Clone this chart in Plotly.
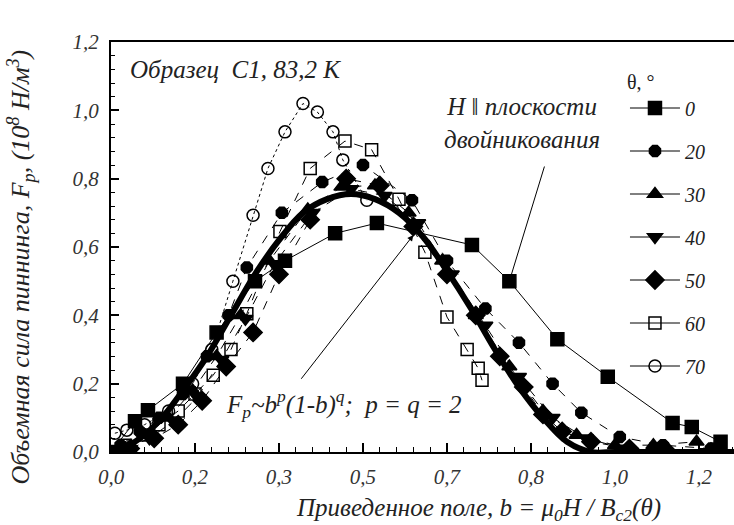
import plotly.graph_objects as go

# ---------------- data ----------------
b0 = [0.0, 0.05, 0.077, 0.15, 0.22, 0.30, 0.3625, 0.467, 0.554, 0.752, 0.83, 0.93, 1.035, 1.17, 1.21, 1.27]
f0 = [0.0, 0.09, 0.122, 0.20, 0.35, 0.50, 0.56, 0.64, 0.67, 0.606, 0.50, 0.33, 0.22, 0.085, 0.073, 0.03]

b20 = [0.02, 0.06, 0.10, 0.15, 0.20, 0.245, 0.283, 0.356, 0.44, 0.525, 0.627, 0.70, 0.78, 0.85, 0.92, 0.98, 1.06, 1.15, 1.25]
f20 = [0.02, 0.06, 0.10, 0.17, 0.28, 0.40, 0.54, 0.70, 0.79, 0.84, 0.737, 0.56, 0.42, 0.32, 0.20, 0.115, 0.044, 0.02, 0.01]

b30 = [0.02, 0.07, 0.12, 0.17, 0.22, 0.27, 0.33, 0.41, 0.48, 0.55, 0.62, 0.69, 0.76, 0.83, 0.90, 0.97, 1.05, 1.13, 1.22]
f30 = [0.01, 0.05, 0.10, 0.18, 0.28, 0.40, 0.56, 0.71, 0.776, 0.78, 0.70, 0.56, 0.40, 0.25, 0.12, 0.05, 0.02, 0.02, 0.03]

b40 = [0.03, 0.08, 0.13, 0.18, 0.23, 0.28, 0.34, 0.42, 0.50, 0.57, 0.64, 0.71, 0.78, 0.85, 0.92, 0.99, 1.07, 1.15, 1.24]
f40 = [0.01, 0.04, 0.09, 0.16, 0.27, 0.39, 0.55, 0.70, 0.77, 0.75, 0.67, 0.52, 0.37, 0.22, 0.10, 0.04, 0.01, 0.0, 0.0]

b50 = [0.04, 0.09, 0.14, 0.19, 0.24, 0.296, 0.35, 0.415, 0.49, 0.56, 0.63, 0.70, 0.76, 0.81, 0.86, 0.90, 0.94, 1.0, 1.08, 1.16, 1.25]
f50 = [0.01, 0.04, 0.08, 0.15, 0.25, 0.35, 0.52, 0.68, 0.80, 0.78, 0.66, 0.52, 0.40, 0.28, 0.19, 0.11, 0.06, 0.03, 0.01, 0.0, 0.0]

b60 = [0.03, 0.07, 0.10, 0.14, 0.175, 0.213, 0.25, 0.283, 0.352, 0.415, 0.4875, 0.543, 0.60, 0.654, 0.70, 0.742, 0.765, 0.773]
f60 = [0.02, 0.05, 0.08, 0.12, 0.17, 0.225, 0.30, 0.405, 0.645, 0.83, 0.91, 0.885, 0.74, 0.585, 0.395, 0.30, 0.245, 0.21]

b70 = [0.008, 0.033, 0.07, 0.12, 0.17, 0.21, 0.254, 0.296, 0.327, 0.3625, 0.40, 0.43, 0.4625, 0.483, 0.533]
f70 = [0.055, 0.064, 0.08, 0.12, 0.20, 0.30, 0.50, 0.693, 0.83, 0.937, 1.02, 0.995, 0.937, 0.855, 0.737]

# fitted curve F_p ~ b^2 (1-b)^2
bfit = [0.0, 0.05, 0.10, 0.15, 0.20, 0.25, 0.30, 0.35, 0.40, 0.45, 0.50, 0.55, 0.60, 0.65, 0.70, 0.75, 0.80, 0.85, 0.90, 0.95, 1.0, 1.05, 1.10, 1.20, 1.30]
ffit = [0.0, 0.03, 0.09, 0.18, 0.28, 0.40, 0.52, 0.62, 0.70, 0.74, 0.755, 0.74, 0.70, 0.63, 0.53, 0.42, 0.30, 0.19, 0.10, 0.03, 0.0, 0.0, 0.0, 0.0, 0.0]

x_tickvals = [0.0, 0.175, 0.35, 0.525, 0.70, 0.875, 1.05, 1.225]
x_ticktext = ["0,0", "0,2", "0,3", "0,5", "0,7", "0,8", "1,0", "1,2"]
y_tickvals = [0.0, 0.2, 0.4, 0.6, 0.8, 1.0, 1.2]
y_ticktext = ["0,0", "0,2", "0,4", "0,6", "0,8", "1,0", "1,2"]

series = [
    ("0", b0, f0, "square", 13, "solid"),
    ("20", b20, f20, "octagon", 12, "dash"),
    ("30", b30, f30, "triangle-up", 13, "dash"),
    ("40", b40, f40, "triangle-down", 13, "dash"),
    ("50", b50, f50, "diamond", 14, "dash"),
    ("60", b60, f60, "square-open", 12, "dash"),
    ("70", b70, f70, "circle-open", 12, "dot"),
]

FONT = "Liberation Serif, DejaVu Serif, serif"
fig = go.Figure()

fig.add_trace(go.Scatter(x=bfit, y=ffit, mode="lines", line=dict(color="black", width=6, shape="spline"),
                         showlegend=False, hoverinfo="skip"))

for name, xs, ys, sym, size, dash in series:
    fig.add_trace(go.Scatter(
        x=xs, y=ys, mode="lines+markers", name=name, legendgroup=name, showlegend=False,
        line=dict(color="black", width=1, dash=dash),
        marker=dict(symbol=sym, size=size, color="black", line=dict(color="black", width=1.5)),
    ))
    # legend entry (solid line, as in the original legend)
    fig.add_trace(go.Scatter(
        x=[None], y=[None], mode="lines+markers", name=name, legendgroup=name,
        line=dict(color="black", width=1),
        marker=dict(symbol=sym, size=size, color="black", line=dict(color="black", width=1.5)),
    ))

fig.update_layout(
    width=734, height=525,
    margin=dict(l=111, r=0, t=42, b=73),
    paper_bgcolor="white", plot_bgcolor="white",
    font=dict(family=FONT, size=18, color="#222"),
    showlegend=True,
    legend=dict(
        x=0.825, y=0.95, xanchor="left", yanchor="top",
        bgcolor="rgba(0,0,0,0)", traceorder="grouped", tracegroupgap=14,
        itemwidth=50,
        title=dict(text="θ, °", font=dict(family=FONT, size=20, style="normal")),
        font=dict(family=FONT, size=20, style="italic"),
    ),
    xaxis=dict(
        range=[0, 1.298], showgrid=False, zeroline=False,
        showline=True, linecolor="black", linewidth=2, mirror=True,
        ticks="inside", ticklen=9, tickwidth=1.5, tickcolor="black",
        tickvals=x_tickvals, ticktext=x_ticktext, ticklabelstandoff=5,
        minor=dict(dtick=0.035, tick0=0, ticks="inside", ticklen=5, tickcolor="black", tickwidth=1),
        tickfont=dict(family=FONT, size=21, style="italic", color="#333"),
    ),
    yaxis=dict(
        range=[0, 1.2], showgrid=False, zeroline=False,
        showline=True, linecolor="black", linewidth=2, mirror=False,
        ticks="inside", ticklen=8, tickwidth=1.5, tickcolor="black",
        tickvals=y_tickvals, ticktext=y_ticktext, ticklabelstandoff=6,
        minor=dict(dtick=0.04, tick0=0, ticks="inside", ticklen=4, tickcolor="black", tickwidth=1),
        tickfont=dict(family=FONT, size=21, style="italic", color="#333"),
    ),
)

# axis titles (placed as annotations to match the original positions)
fig.add_annotation(x=-0.146, y=0.45, xref="paper", yref="paper", textangle=-90, showarrow=False,
                   text="Объемная сила пиннинга, F<sub>p</sub>, (10<sup>8</sup> Н/м<sup>3</sup>)",
                   xanchor="center", yanchor="middle",
                   font=dict(family=FONT, size=26, style="italic", color="#222"))
fig.add_annotation(x=0.59, y=-0.141, xref="paper", yref="paper", showarrow=False,
                   text="Приведенное поле, b = μ<sub>0</sub>H / B<sub>c2</sub>(θ)",
                   xanchor="center", yanchor="middle",
                   font=dict(family=FONT, size=25, style="italic", color="#222"))
fig.add_annotation(x=0.035, y=1.12, xref="x", yref="y", text="Образец  C1, 83,2 K", showarrow=False,
                   xanchor="left", yanchor="middle", font=dict(family=FONT, size=25, style="italic"))
fig.add_annotation(x=0.83, y=0.50, ax=0.904, ay=0.84, xref="x", yref="y", axref="x", ayref="y",
                   text="", showarrow=True, arrowhead=2, arrowsize=1.2, arrowwidth=1, arrowcolor="black")
fig.add_annotation(x=0.856, y=0.963, xref="x", yref="y",
                   text="H ‖ плоскости<br>двойникования", showarrow=False, align="center",
                   xanchor="center", yanchor="middle", font=dict(family=FONT, size=25, style="italic"))
fig.add_annotation(x=0.63, y=0.635, ax=0.394, ay=0.21, xref="x", yref="y", axref="x", ayref="y",
                   text="", showarrow=True, arrowhead=2, arrowsize=1.2, arrowwidth=1, arrowcolor="black")
fig.add_annotation(x=0.235, y=0.14, xref="x", yref="y",
                   text="F<sub>p</sub>~b<sup>p</sup>(1-b)<sup>q</sup>;  p = q = 2", showarrow=False,
                   xanchor="left", yanchor="middle", font=dict(family=FONT, size=25, style="italic"))

fig.write_html("out.html")
